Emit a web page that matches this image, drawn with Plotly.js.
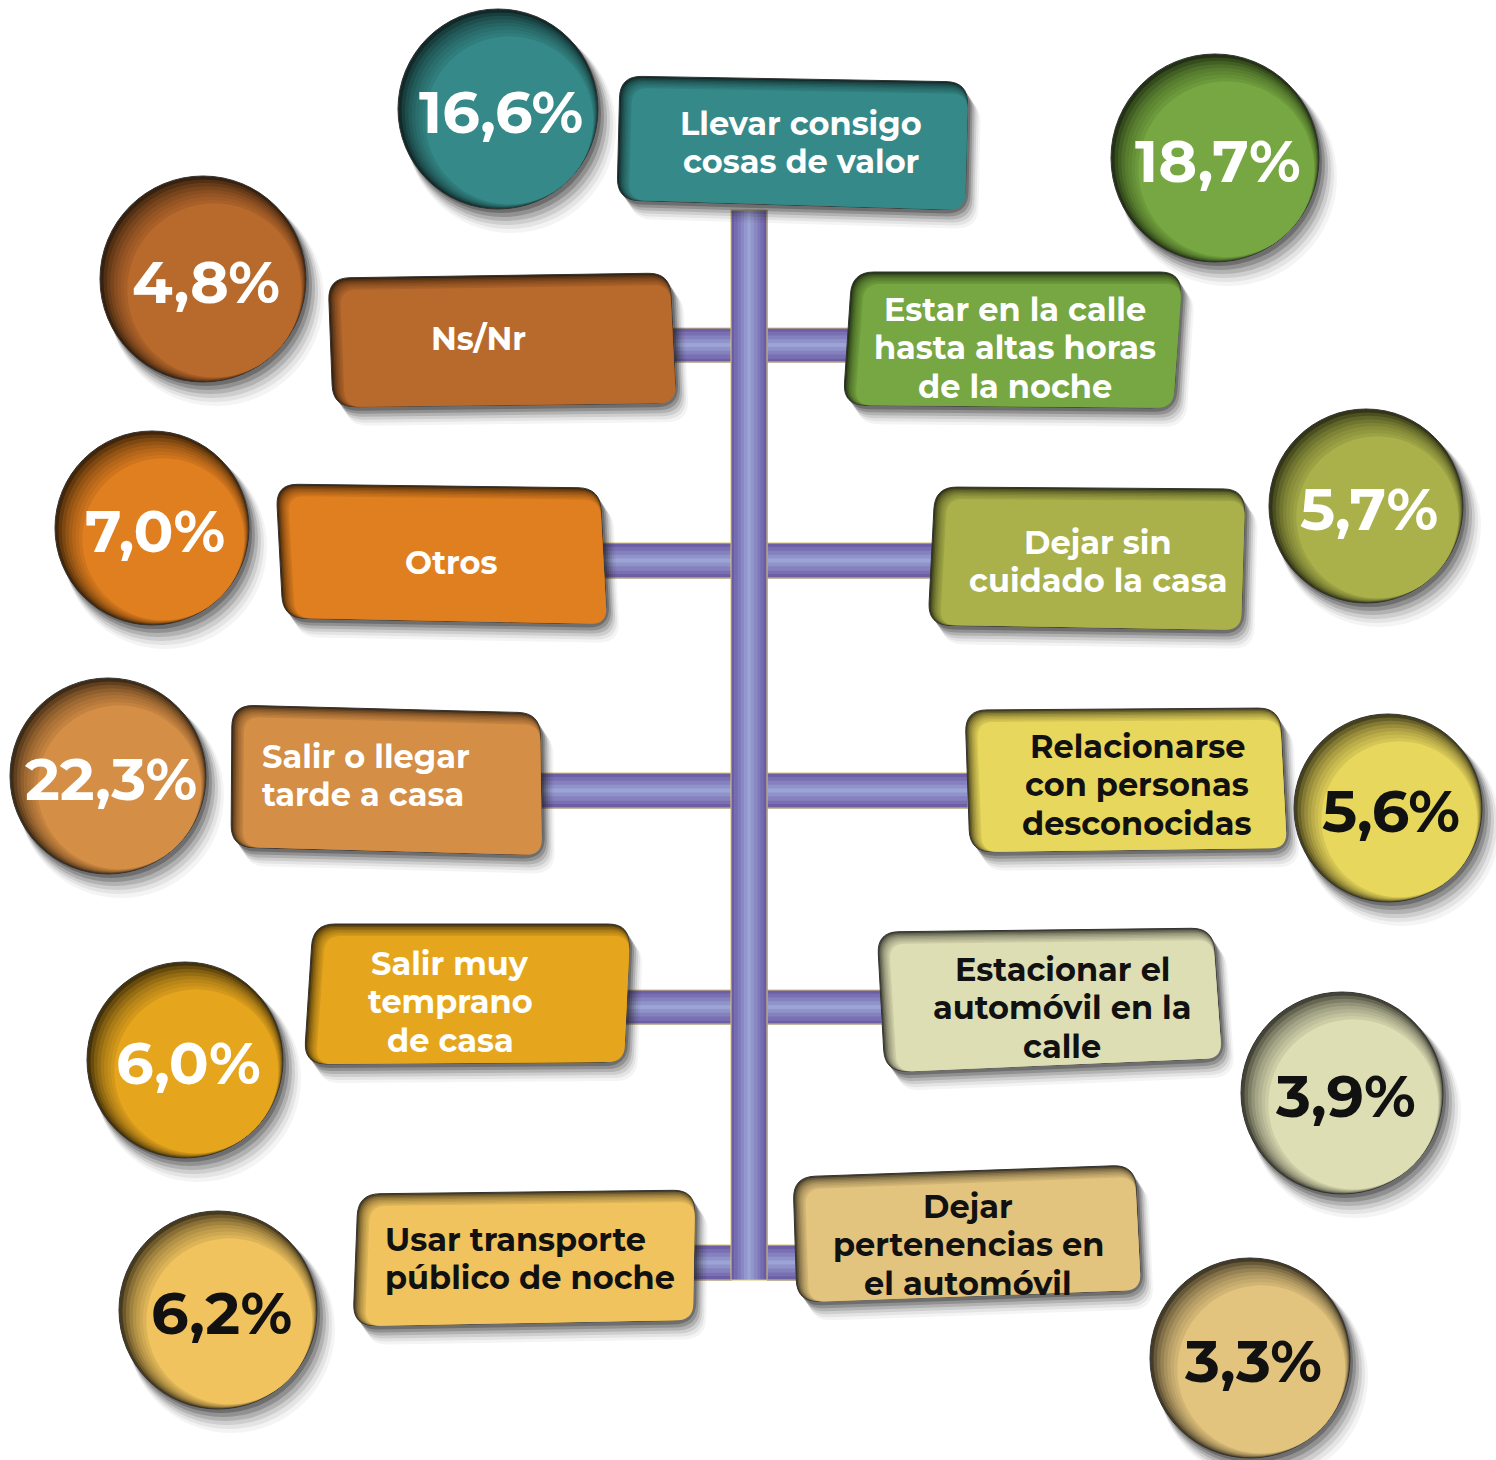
<!DOCTYPE html>
<html><head><meta charset="utf-8">
<script src="https://cdn.plot.ly/plotly-3.0.1.min.js"></script>
<style>html,body{margin:0;padding:0;background:#fff}#chart{width:1496px;height:1460px}</style>
</head><body><div id="chart"></div>
<script>
// ---- DATA ----
const categories = [
  "Llevar consigo<br>cosas de valor",
  "Estar en la calle<br>hasta altas horas<br>de la noche",
  "Ns/Nr",
  "Otros",
  "Dejar sin<br>cuidado la casa",
  "Salir o llegar<br>tarde a casa",
  "Relacionarse<br>con personas<br>desconocidas",
  "Salir muy<br>temprano<br>de casa",
  "Estacionar el<br>automóvil en la<br>calle",
  "Usar transporte<br>público de noche",
  "Dejar<br>pertenencias en<br>el automóvil"
];
const values = [16.6, 18.7, 4.8, 7.0, 5.7, 22.3, 5.6, 6.0, 3.9, 6.2, 3.3];

// ---- STYLE / LAYOUT ----
const fills = ["#358a89","#76a742","#b86a2c","#e07f20","#aab14a","#d48e45","#e7d75c","#e5a61e","#dedeb4","#f0c35f","#e3c47e"];
const textColors = ["#ffffff","#ffffff","#ffffff","#ffffff","#ffffff","#ffffff","#111111","#ffffff","#111111","#111111","#111111"];
// circle [cx, cy, r]
const circlePos = [[498,109,100],[1215,158,104],[203,279,103],[152,528,97],[1366,506,97],[108,776,98],[1388,808,94],[185,1060,98],[1342,1093,101],[218,1310,99],[1250,1358,100]];
// box quads TL,TR,BR,BL
const boxPos = [
  [[620,76],[968,82],[965,210],[617,200]],
  [[852,272],[1182,272],[1173,408],[843,405]],
  [[328,278],[670,273],[676,403],[333,407]],
  [[276,484],[600,488],[607,624],[283,618]],
  [[935,487],[1245,489],[1241,630],[928,625]],
  [[232,705],[540,713],[542,855],[231,847]],
  [[965,710],[1280,708],[1287,848],[970,852]],
  [[313,924],[630,924],[624,1062],[304,1064]],
  [[877,932],[1213,928],[1222,1058],[885,1072]],
  [[358,1194],[695,1190],[693,1320],[353,1326]],
  [[793,1177],[1135,1165],[1141,1290],[797,1302]]
];
// label anchor [x, first-line y, anchor]
const labelPos = [[801,123,"center"],[1015,309,"center"],[478,338,"center"],[451,562,"center"],[1098,542,"center"],[260,756,"left"],[1137,746,"center"],[450,963,"center"],[1062,969,"center"],[383,1239,"left"],[968,1206,"center"]];
const lineGap = 38.5;
// connectors [y0, y1, xLeft0, xLeft1, xRight0, xRight1]
const connectors = [[328,362,670,732,767,850],[543,578,600,732,767,935],[773,808,540,732,767,968],[990,1024,624,732,767,882],[1245,1280,693,732,767,797]];
const spine = [731,767,210,1280];

const FONT = 'Montserrat, "Open Sans", "Noto Sans", sans-serif';

function hex2rgb(h){return [parseInt(h.slice(1,3),16),parseInt(h.slice(3,5),16),parseInt(h.slice(5,7),16)];}
function rgb(a){return 'rgb('+a.map(v=>Math.round(v)).join(',')+')';}
function mix(a,b,t){return a.map((v,i)=>v+(b[i]-v)*t);}
function dark(h,f){return rgb(hex2rgb(h).map(v=>v*f));}

function roundedPath(pts, r){
  let d='';
  const n=pts.length;
  for(let i=0;i<n;i++){
    const P=pts[i], A=pts[(i+n-1)%n], B=pts[(i+1)%n];
    const ua=[A[0]-P[0],A[1]-P[1]], la=Math.hypot(ua[0],ua[1]);
    const ub=[B[0]-P[0],B[1]-P[1]], lb=Math.hypot(ub[0],ub[1]);
    const p1=[P[0]+ua[0]/la*r,P[1]+ua[1]/la*r];
    const p2=[P[0]+ub[0]/lb*r,P[1]+ub[1]/lb*r];
    d += (i===0?'M':'L')+p1[0].toFixed(1)+','+p1[1].toFixed(1)+' Q'+P[0]+','+P[1]+' '+p2[0].toFixed(1)+','+p2[1].toFixed(1)+' ';
  }
  return d+'Z';
}
function shiftQuad(q,dx,dy){return q.map(p=>[p[0]+dx,p[1]+dy]);}

const shapes=[];
const base={xref:'x',yref:'y',layer:'above'};

// connectors (vertical gradient strips)
const edgeC=hex2rgb('#6656a0'), midC=hex2rgb('#9ca4d6');
connectors.forEach(c=>{
  const n=9, h=(c[1]-c[0])/n;
  [[c[2],c[3]],[c[4],c[5]]].forEach(seg=>{
    for(let k=0;k<n;k++){
      const t=1-Math.abs((k+0.5)/n-0.5)*2;
      shapes.push(Object.assign({},base,{type:'rect',x0:seg[0],x1:seg[1],y0:c[0]+k*h,y1:c[0]+(k+1)*h+0.6,fillcolor:rgb(mix(edgeC,midC,t)),line:{width:0}}));
    }
    shapes.push(Object.assign({},base,{type:'rect',x0:seg[0],x1:seg[1],y0:c[0],y1:c[1],fillcolor:'rgba(0,0,0,0)',line:{color:'#d9c46e',width:1}}));
  });
});
// spine
{
  const n=11, w=(spine[1]-spine[0])/n;
  for(let k=0;k<n;k++){
    const t=1-Math.abs((k+0.5)/n-0.5)*2;
    shapes.push(Object.assign({},base,{type:'rect',x0:spine[0]+k*w,x1:spine[0]+(k+1)*w+0.6,y0:spine[2],y1:spine[3],fillcolor:rgb(mix(edgeC,midC,t)),line:{width:0}}));
  }
  shapes.push(Object.assign({},base,{type:'rect',x0:spine[0],x1:spine[1],y0:spine[2],y1:spine[3],fillcolor:'rgba(0,0,0,0)',line:{color:'#d9c46e',width:1}}));
}

const dropSh=[[3,4,0,0.30],[5,7,1,0.22],[7,10,2,0.16],[9,13,3,0.11],[11,16,4,0.07],[13,19,5,0.05]];
const innerL=[[2,0.22],[4,0.22],[6,0.22],[8,0.24],[10,0.26],[12,0.3],[14,0.4],[16,1]];

// boxes
boxPos.forEach((q,i)=>{
  dropSh.forEach(s=>shapes.push(Object.assign({},base,{type:'path',path:roundedPath(shiftQuad(q,s[0],s[1]),22),fillcolor:'rgba(30,30,30,'+s[3]+')',line:{width:0}})));
  shapes.push(Object.assign({},base,{type:'path',path:roundedPath(q,22),fillcolor:dark(fills[i],0.3),line:{color:'#333',width:1}}));
  innerL.forEach(L=>{
    const k=L[0]*0.75;
    const qq=[[q[0][0]+k,q[0][1]+k],[q[1][0],q[1][1]+k],[q[2][0],q[2][1]],[q[3][0]+k,q[3][1]]];
    shapes.push(Object.assign({},base,{type:'path',path:roundedPath(qq,Math.max(22-k*0.5,14)),fillcolor:fills[i],opacity:L[1],line:{width:0}}));
  });
});

// circles
circlePos.forEach((c,i)=>{
  const [cx,cy,r]=c;
  dropSh.forEach(s=>shapes.push(Object.assign({},base,{type:'circle',x0:cx+s[0]-r-s[2],x1:cx+s[0]+r+s[2],y0:cy+s[1]-r-s[2],y1:cy+s[1]+r+s[2],fillcolor:'rgba(30,30,30,'+s[3]+')',line:{width:0}})));
  shapes.push(Object.assign({},base,{type:'circle',x0:cx-r,x1:cx+r,y0:cy-r,y1:cy+r,fillcolor:dark(fills[i],0.3),line:{color:'#333',width:1}}));
  innerL.forEach(L=>{
    const o=L[0], d=o/Math.SQRT2, rr=r-o;
    shapes.push(Object.assign({},base,{type:'circle',x0:cx+d-rr,x1:cx+d+rr,y0:cy+d-rr,y1:cy+d+rr,fillcolor:fills[i],opacity:L[1],line:{width:0}}));
  });
});

const fmt=v=>v.toFixed(1).replace('.',',')+'%';
const annotations=[];
values.forEach((v,i)=>{
  const c=circlePos[i];
  annotations.push({x:c[0]+3,y:c[1]+3,xref:'x',yref:'y',text:fmt(v),showarrow:false,xanchor:'center',yanchor:'middle',font:{family:FONT,size:59,color:textColors[i],weight:700}});
  const L=labelPos[i];
  categories[i].split('<br>').forEach((line,j)=>{
    annotations.push({x:L[0],y:L[1]+j*lineGap,xref:'x',yref:'y',text:line,showarrow:false,xanchor:L[2],yanchor:'middle',align:L[2],font:{family:FONT,size:32,color:textColors[i],weight:700}});
  });
});

// invisible data trace so axes are real
const trace={x:circlePos.map(c=>c[0]),y:circlePos.map(c=>c[1]),customdata:values,text:categories,mode:'markers',marker:{size:1,opacity:0},hoverinfo:'skip',type:'scatter'};

Plotly.newPlot('chart',[trace],{
  width:1496,height:1460,margin:{l:0,r:0,t:0,b:0},
  paper_bgcolor:'#ffffff',plot_bgcolor:'#ffffff',
  xaxis:{range:[0,1496],visible:false,fixedrange:true},
  yaxis:{range:[1460,0],visible:false,fixedrange:true},
  showlegend:false,shapes:shapes,annotations:annotations
},{staticPlot:true});
</script></body></html>
